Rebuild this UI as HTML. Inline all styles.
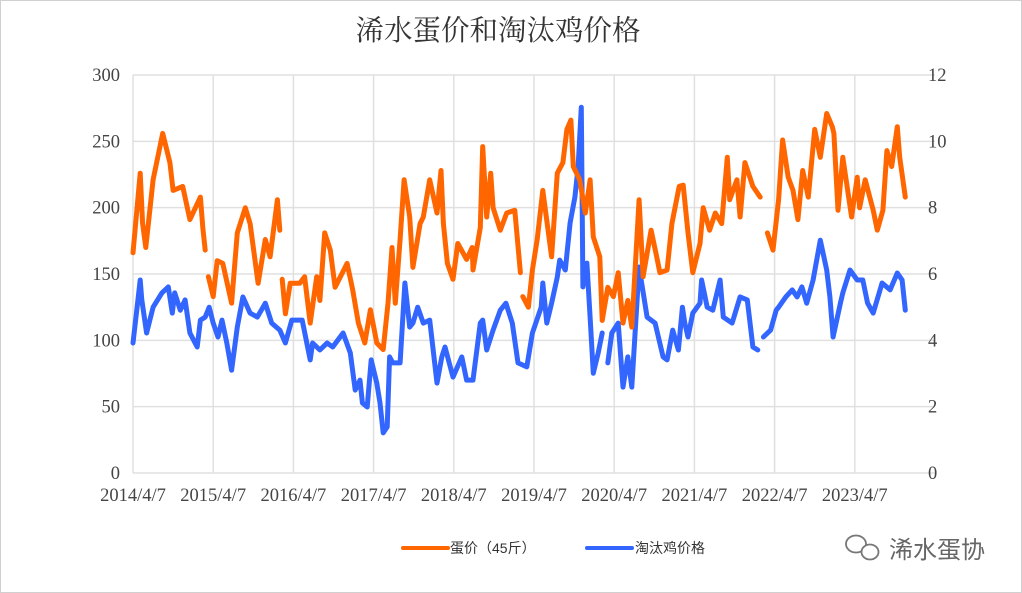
<!DOCTYPE html>
<html><head><meta charset="utf-8">
<style>
body{margin:0;background:#fff;}
svg{display:block;}
.t{font-family:"Liberation Serif","Noto Serif CJK SC",serif;font-size:18.5px;fill:#444;}
</style></head>
<body>
<svg id="chart" width="1022" height="593" viewBox="0 0 1022 593">
<rect x="0.5" y="0.5" width="1021" height="592" fill="#fff" stroke="#d0d0d0"/>
<text x="498" y="40" text-anchor="middle" style="font-family:'Liberation Serif','Noto Serif CJK SC',serif;font-size:28.5px;fill:#333">浠水蛋价和淘汰鸡价格</text>
<g id="grid"></g>
<g id="axes"></g>
<g id="series"></g>
<g>
<line x1="403" y1="548" x2="448" y2="548" stroke="#ff6600" stroke-width="4" stroke-linecap="round"/>
<text x="450" y="553" style="font-family:'Liberation Sans','Noto Sans CJK SC',sans-serif;font-size:14px;fill:#333">蛋价（45斤）</text>
<line x1="587" y1="548" x2="632" y2="548" stroke="#3366ff" stroke-width="4" stroke-linecap="round"/>
<text x="635" y="553" style="font-family:'Liberation Sans','Noto Sans CJK SC',sans-serif;font-size:14px;fill:#333">淘汰鸡价格</text>
</g>
<g>
<ellipse cx="856" cy="544" rx="10" ry="8.5" fill="none" stroke="#777" stroke-width="1.8"/>
<ellipse cx="870" cy="552" rx="8.5" ry="7.5" fill="#fff" stroke="#777" stroke-width="1.8"/>
<text x="889" y="558" style="font-family:'Liberation Sans','Noto Sans CJK SC',sans-serif;font-size:24px;fill:#666">浠水蛋协</text>
</g>
</svg>
<script>
const xTickLabels=["2014/4/7","2015/4/7","2016/4/7","2017/4/7","2018/4/7","2019/4/7","2020/4/7","2021/4/7","2022/4/7","2023/4/7"];
const leftTicks=[0,50,100,150,200,250,300];
const rightTicks=[0,2,4,6,8,10,12];
// years since 2014/4/7; null = gap
const eggT=[0,.09,.12,.16,.25,.37,.46,.50,.62,.71,.84,.87,.90,null,.94,1.0,1.05,1.12,1.23,1.30,1.40,1.46,1.56,1.65,1.71,1.80,1.83,null,1.86,1.90,1.96,2.08,2.14,2.21,2.29,2.33,2.39,2.46,2.52,2.67,2.74,2.81,2.89,2.96,3.04,3.12,3.18,3.23,3.27,3.33,3.38,3.45,3.49,3.58,3.62,3.70,3.79,3.84,3.87,3.92,3.99,4.05,4.16,4.23,4.24,4.33,4.36,4.41,4.46,4.49,4.58,4.66,4.76,4.83,null,4.86,4.93,4.98,5.04,5.11,5.22,5.29,5.36,5.41,5.46,5.49,5.57,5.64,5.70,5.74,5.82,5.85,5.92,5.99,6.05,6.11,6.17,6.22,6.31,6.36,6.46,6.53,6.57,6.66,6.72,6.81,6.86,6.92,6.98,7.07,7.11,7.19,7.26,7.34,7.41,7.44,7.53,7.57,7.63,7.73,7.82,null,7.86,7.91,7.98,8.05,8.10,8.17,8.23,8.29,8.35,8.42,8.50,8.57,8.65,8.72,8.74,8.79,8.85,8.96,9.03,9.06,9.13,9.23,9.28,9.35,9.40,9.46,9.53,9.56,9.63];
const eggPrice=[166,226,188,170,221,256,234,213,216,191,208,185,168,null,148,133,160,158,128,181,200,188,143,176,163,206,183,null,146,120,143,143,148,113,148,130,181,168,140,158,138,113,98,123,98,93,128,170,128,176,221,193,155,188,193,221,196,228,188,158,146,173,161,170,153,185,246,193,226,200,183,196,198,151,null,133,125,153,176,213,163,226,234,259,266,231,221,196,221,178,163,115,140,133,151,113,130,110,206,148,183,163,151,153,188,216,217,181,151,173,200,183,196,188,238,206,221,193,234,216,208,193,null,181,168,206,251,223,213,191,228,208,259,238,271,261,256,198,238,193,223,200,221,198,183,198,243,231,261,238,208,196];
const henT=[0,.09,.11,.17,.25,.36,.44,.49,.52,.59,.65,.71,.80,.84,.90,.95,1.0,1.06,1.11,1.17,1.23,1.30,1.37,1.46,1.55,1.65,1.73,1.83,1.90,1.98,2.11,2.21,2.24,2.33,2.42,2.49,2.62,2.71,2.77,2.83,2.86,2.92,2.97,3.04,3.08,3.12,3.17,3.20,3.24,3.33,3.39,3.45,3.49,3.55,3.62,3.70,3.79,3.85,3.89,3.99,4.10,4.16,4.24,4.33,4.36,4.41,4.49,4.58,4.65,4.73,4.80,4.91,4.98,5.09,5.11,5.16,5.22,5.29,5.32,5.39,5.45,5.51,5.55,5.59,5.61,5.66,5.70,5.74,5.80,5.85,null,5.92,5.97,6.05,6.11,6.17,6.22,6.31,6.41,6.51,6.61,6.66,6.73,6.80,6.85,6.88,6.92,6.98,7.07,7.09,7.16,7.23,7.32,7.36,7.47,7.57,7.66,7.73,7.79,null,7.86,7.95,8.02,8.05,8.14,8.22,8.28,8.34,8.40,8.48,8.57,8.65,8.69,8.73,8.82,8.85,8.94,9.03,9.10,9.16,9.23,9.34,9.44,9.53,9.59,9.63];
const henPrice=[3.92,5.82,5.22,4.22,5.0,5.43,5.61,4.82,5.43,4.91,5.22,4.22,3.80,4.61,4.70,5.0,4.52,4.1,4.61,3.92,3.1,4.4,5.31,4.82,4.70,5.12,4.52,4.31,3.92,4.61,4.61,3.41,3.92,3.71,3.92,3.8,4.22,3.62,2.5,2.8,2.11,1.99,3.41,2.71,2.11,1.21,1.39,3.5,3.32,3.32,5.73,4.4,4.52,5.0,4.52,4.61,2.71,3.5,3.8,2.89,3.5,2.8,2.8,4.52,4.61,3.71,4.31,4.91,5.12,4.52,3.32,3.2,4.22,5.0,5.73,4.52,5.12,5.91,6.42,6.12,7.54,8.32,9.22,11.03,5.61,6.33,4.7,3.01,3.62,4.22,null,3.32,4.22,4.52,2.59,3.5,2.59,6.21,4.7,4.52,3.5,3.41,4.31,3.71,5.0,4.52,4.1,4.82,5.12,5.82,5.0,4.91,5.82,4.7,4.52,5.31,5.22,3.8,3.71,null,4.1,4.31,4.91,5.0,5.31,5.52,5.31,5.61,5.12,5.82,7.02,6.12,5.31,4.1,5.12,5.43,6.12,5.82,5.82,5.12,4.82,5.73,5.52,6.03,5.82,4.91];

const X0=133,PX_PER_YEAR=80.2,Y0=473,PX_PER_UNIT_L=398/300,PX_PER_UNIT_R=398/12;
function xS(t){return X0+t*PX_PER_YEAR;}
function yL(v){return Y0-v*PX_PER_UNIT_L;}
function yR(v){return Y0-v*PX_PER_UNIT_R;}
const NS="http://www.w3.org/2000/svg";
const grid=document.getElementById('grid'),axes=document.getElementById('axes'),series=document.getElementById('series');
function mk(tag,attrs,parent){const e=document.createElementNS(NS,tag);for(const k in attrs)e.setAttribute(k,attrs[k]);parent.appendChild(e);return e;}
leftTicks.forEach((v,i)=>{
  const l=mk('line',{x1:X0,x2:935,y1:yL(v),y2:yL(v),stroke:'#e0e0e0','stroke-width':1.5},grid);
  
  
  const t=mk('text',{x:120,y:yL(v)+6,'text-anchor':'end',class:'t'},axes);
  t.textContent=v;
  
  
});
rightTicks.forEach(v=>{
  const t=mk('text',{x:928,y:yR(v)+6,'text-anchor':'start',class:'t'},axes);
  t.textContent=v;
  
  
});
xTickLabels.forEach((s,i)=>{
  const l=mk('line',{x1:xS(i),x2:xS(i),y1:yL(300),y2:Y0,stroke:'#e0e0e0','stroke-width':1.5},grid);
  
  
  const t=mk('text',{x:xS(i),y:501,'text-anchor':'middle',class:'t'},axes);
  t.textContent=s;
  
  
});
function pathFrom(ts,vs,yf){let d='',pen=false;for(let i=0;i<ts.length;i++){if(ts[i]===null||vs[i]===null){pen=false;continue;}d+=(pen?'L':'M')+xS(ts[i]).toFixed(1)+' '+yf(vs[i]).toFixed(1)+' ';pen=true;}return d;}
const pHen=mk('path',{d:pathFrom(henT,henPrice,yR),fill:'none',stroke:'#3366ff','stroke-width':5,'stroke-linejoin':'round','stroke-linecap':'round'},series);


const pEgg=mk('path',{d:pathFrom(eggT,eggPrice,yL),fill:'none',stroke:'#ff6600','stroke-width':5,'stroke-linejoin':'round','stroke-linecap':'round'},series);


</script>
</body></html>
